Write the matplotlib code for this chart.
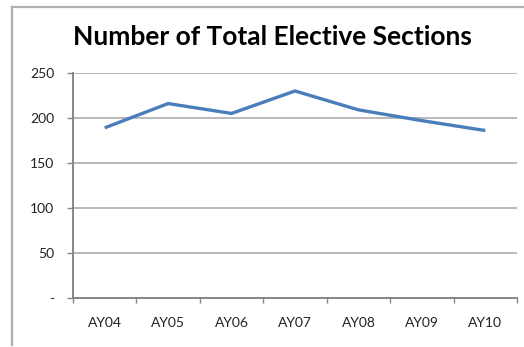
import matplotlib
matplotlib.use("Agg")
import matplotlib.pyplot as plt
from matplotlib.lines import Line2D
from matplotlib.ticker import FixedLocator, FuncFormatter

# Total elective sections per academic year
years = ["AY04", "AY05", "AY06", "AY07", "AY08", "AY09", "AY10"]
sections = [189, 216, 205, 230, 209, 197, 186]
y_ticks = [0, 50, 100, 150, 200, 250]

W, H = 524, 347
plt.rcParams["font.family"] = ["Lato", "DejaVu Sans"]

fig = plt.figure(figsize=(W / 100, H / 100), dpi=100)
ax = fig.add_axes([73 / W, 1 - 297.7 / H, (517 - 73) / W, (297.7 - 73) / H])

x = [i + 0.5 for i in range(len(years))]
ax.plot(x, sections, color="#4a7ebb", linewidth=2.4, solid_joinstyle="round",
        solid_capstyle="butt", zorder=3)

ax.set_xlim(0, len(years))
ax.set_ylim(0, 250)

# category boundaries carry the tick marks, labels sit between them
ax.xaxis.set_major_locator(FixedLocator(range(len(years) + 1)))
ax.xaxis.set_minor_locator(FixedLocator(x))
ax.set_xticklabels([""] * (len(years) + 1))
ax.set_xticklabels(years, minor=True)
ax.tick_params(axis="x", which="major", length=3.5, width=1, color="#868686", direction="out")
ax.tick_params(axis="x", which="minor", length=0, pad=14, labelsize=10, labelcolor="#222222")

ax.yaxis.set_major_locator(FixedLocator(y_ticks))
ax.yaxis.set_major_formatter(FuncFormatter(lambda v, p: "-" if v == 0 else f"{int(v)}"))
ax.tick_params(axis="y", length=4.5, width=1, color="#868686", pad=9, labelsize=10,
               labelcolor="#222222")

ax.grid(axis="y", color="#b3b3b3", linewidth=1.3)
ax.set_axisbelow(True)
for side in ("top", "right"):
    ax.spines[side].set_visible(False)
for side in ("left", "bottom"):
    ax.spines[side].set_color("#868686")
    ax.spines[side].set_linewidth(1.4)

fig.text(272 / W, 1 - 37 / H, "Number of Total Elective Sections", ha="center", va="center",
         fontsize=19, fontweight="bold", color="black")

# chart-area border (left and top edges)
frame = dict(color="#b0b0b0", linewidth=1.6, transform=fig.transFigure)
fig.add_artist(Line2D([11.5 / W, 11.5 / W], [1 - 6.5 / H, 1 - 345 / H], **frame))
fig.add_artist(Line2D([11.5 / W, 1], [1 - 6.5 / H, 1 - 6.5 / H], **frame))

fig.savefig("out.png", dpi=100)
